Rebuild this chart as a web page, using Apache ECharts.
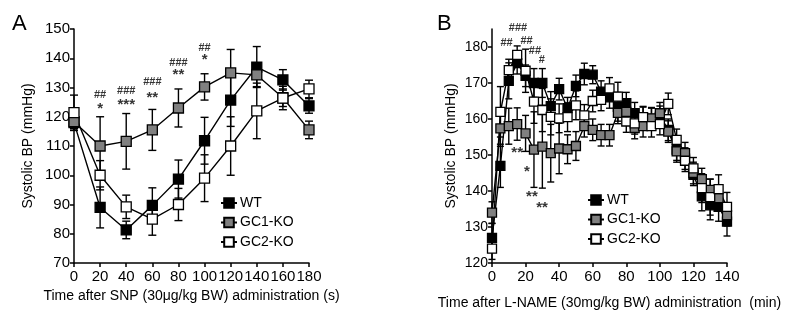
<!DOCTYPE html>
<html>
<head>
<meta charset="utf-8">
<script src="https://cdn.jsdelivr.net/npm/echarts@6/dist/echarts.min.js"></script>
<style>
  html, body { margin: 0; padding: 0; background: #fff; }
  #chart { width: 790px; height: 317px; }
</style>
</head>
<body>
<div id="chart"></div>
<script>
// ---- panel A: SNP ----
const timeA = [0, 20, 40, 60, 80, 100, 120, 140, 160, 180];
const wtA = [118, 89, 81.3, 89.7, 98.7, 111.8, 125.7, 137, 132.6, 123.7];
const wtAsd = [2, 7, 3, 6, 6.5, 8, 9, 7, 3.5, 2.5];
const gc1A = [118.3, 110, 111.6, 115.5, 123, 130.2, 135, 134.3, 126.5, 115.5];
const gc1Asd = [3, 10, 9.5, 7, 6.5, 4.5, 8, 4, 3, 3];
const gc2A = [121.4, 100, 89.2, 85, 90, 99, 110, 122, 126.4, 129.5];
const gc2Asd = [6, 5, 4, 5.5, 5.5, 8, 10, 9.5, 4, 3];
const hashA = [[20, 127.4, '##'], [40, 128.8, '###'], [60, 131.8, '###'], [80, 138.3, '###'], [100, 143.4, '##']];
const starA = [[20, 122.6, '*'], [40, 124, '***'], [60, 126.6, '**'], [80, 134.3, '**'], [100, 139.4, '*']];
const yTicksA = [70, 150];

// ---- panel B: L-NAME ----
const timeB = [0, 5, 10, 15, 20, 25, 30, 35, 40, 45, 50, 55, 60, 65, 70, 75, 80, 85, 90, 95, 100, 105, 110, 115, 120, 125, 130, 135, 140];
const wtB = [127, 147, 170.6, 175.5, 172, 170, 170, 163.6, 168.3, 163, 169.2, 172.5, 172.3, 167.6, 166, 163.4, 164.4, 161.6, 160.3, 160, 160.6, 157, 151.5, 149, 144.5, 138.5, 136, 135.6, 131.5];
const wtBsd = [4, 6, 5, 3, 3, 4, 4, 4, 3, 3, 3, 3, 2.5, 3, 3, 4, 3, 3, 3, 3, 3, 3, 3, 3, 3, 4, 4, 4, 4];
const gc1B = [134, 157.4, 158, 158.6, 156, 151.5, 152.3, 150.5, 151.8, 151.6, 152.5, 158, 157, 155.5, 155.5, 161.7, 162, 157.5, 158, 160.2, 161.6, 156.5, 151, 150.5, 145, 143.3, 140.3, 138, 133.3];
const gc1Bsd = [3, 5, 5, 4.5, 5, 10.5, 11.5, 8, 7, 4, 4, 3, 3, 3, 3, 3, 3, 3, 3, 3, 3, 3, 3, 3, 3, 3, 3, 3, 3];
const gc2B = [124, 162, 173.6, 177.8, 173.4, 164.8, 162.5, 160.6, 160.2, 160.5, 163.8, 161, 165, 165.3, 168.5, 166.2, 159.3, 158.8, 160.5, 158, 158.6, 164.2, 154.2, 148.4, 146.3, 140.8, 138.3, 140.5, 135.6];
const gc2Bsd = [3, 7, 3, 2.5, 6, 6, 6, 5, 4, 4, 4, 3, 3, 3, 3, 4, 3, 3, 3, 3, 3, 3, 3, 3, 3, 4, 5, 4, 4];
const hashB = [[8.7, 181, '##'], [15.5, 185.2, '###'], [20.6, 181.7, '##'], [25.6, 178.9, '##'], [29.6, 176.4, '#']];
const starB = [[15, 150.6, '**'], [20.8, 145.3, '*'], [23.8, 138.3, '**'], [29.8, 135.3, '**']];
const yTicksB = [120, 130, 140, 150, 160, 170, 180];

const names = ['WT', 'GC1-KO', 'GC2-KO'];
const fills = ['#000000', '#808080', '#ffffff'];
const FONT = 'Liberation Sans, Arial, sans-serif';

function pairs(t, v) {
    return t.map((x, i) => [x, v[i]]);
}

function bars(t, v, sd) {
    return t.map((x, i) => [x, v[i] - sd[i], v[i] + sd[i]]);
}

function errSeries(idx, data, cap) {
    return {
        type: 'custom',
        xAxisIndex: idx,
        yAxisIndex: idx,
        silent: true,
        data: data,
        renderItem(params, api) {
            const x = api.value(0);
            const top = api.coord([x, api.value(2)]);
            const bot = api.coord([x, api.value(1)]);
            const st = { stroke: '#000', lineWidth: 1.4 };
            return {
                type: 'group',
                children: [
                    { type: 'line', shape: { x1: top[0], y1: top[1], x2: bot[0], y2: bot[1] }, style: st },
                    { type: 'line', shape: { x1: top[0] - cap, y1: top[1], x2: top[0] + cap, y2: top[1] }, style: st },
                    { type: 'line', shape: { x1: bot[0] - cap, y1: bot[1], x2: bot[0] + cap, y2: bot[1] }, style: st }
                ]
            };
        }
    };
}

function lineSeries(idx, k, data, size) {
    return {
        name: names[k],
        type: 'line',
        xAxisIndex: idx,
        yAxisIndex: idx,
        data: data,
        symbol: 'rect',
        symbolSize: size,
        showAllSymbol: true,
        lineStyle: { color: '#000', width: 1.4 },
        itemStyle: { color: fills[k], borderColor: '#000', borderWidth: 1.3 }
    };
}

function textSeries(idx, data, size) {
    return {
        type: 'scatter',
        xAxisIndex: idx,
        yAxisIndex: idx,
        silent: true,
        clip: false,
        symbolSize: 0,
        data: data,
        label: {
            show: true,
            position: 'inside',
            color: '#000',
            fontFamily: FONT,
            fontSize: size,
            fontWeight: 'bold',
            formatter: p => p.data[2]
        },
        z: 5
    };
}

function xAxis(idx, max, name, gap, fs) {
    return {
        type: 'value',
        gridIndex: idx,
        min: 0,
        max: max,
        interval: 20,
        name: name,
        nameLocation: 'middle',
        nameGap: gap,
        nameTextStyle: { color: '#000', fontFamily: FONT, fontSize: 14 },
        splitLine: { show: false },
        axisLine: { onZero: false, lineStyle: { color: '#000', width: 1.5 } },
        axisTick: { length: 4, lineStyle: { color: '#000', width: 1.5 } },
        axisLabel: { color: '#000', fontFamily: FONT, fontSize: fs, margin: 6 }
    };
}

function yAxis(idx, min, max, gap, ticks, fs) {
    const ax = {
        type: 'value',
        gridIndex: idx,
        min: min,
        max: max,
        interval: 10,
        name: 'Systolic BP (mmHg)',
        nameLocation: 'middle',
        nameRotate: 90,
        nameGap: gap,
        nameTextStyle: { color: '#000', fontFamily: FONT, fontSize: 14 },
        splitLine: { show: false },
        axisLine: { onZero: false, lineStyle: { color: '#000', width: 1.5 } },
        axisTick: { length: 4, lineStyle: { color: '#000', width: 1.5 } },
        axisLabel: { color: '#000', fontFamily: FONT, fontSize: fs, margin: 4 }
    };
    if (ticks) {
        ax.axisTick.customValues = ticks;
        ax.axisLabel.customValues = ticks;
    }
    return ax;
}

function legend(left, top) {
    return {
        data: names,
        orient: 'vertical',
        left: left,
        top: top,
        itemWidth: 16,
        itemHeight: 12,
        itemGap: 5.5,
        selectedMode: false,
        textStyle: { color: '#000', fontFamily: FONT, fontSize: 14, padding: [0, 0, 0, -2] }
    };
}

const series = [];
const sdA = [wtAsd, gc1Asd, gc2Asd];
const valsA = [wtA, gc1A, gc2A];
const sdB = [wtBsd, gc1Bsd, gc2Bsd];
const valsB = [wtB, gc1B, gc2B];
for (let k = 0; k < 3; k++) {
    series.push(errSeries(0, bars(timeA, valsA[k], sdA[k]), 4));
    series.push(lineSeries(0, k, pairs(timeA, valsA[k]), 10));
}
for (let k = 0; k < 3; k++) {
    series.push(errSeries(1, bars(timeB, valsB[k], sdB[k]), 3.5));
    series.push(lineSeries(1, k, pairs(timeB, valsB[k]), 9));
}
series.push(textSeries(0, hashA, 11));
series.push(textSeries(0, starA, 15));
series.push(textSeries(1, hashB, 11));
series.push(textSeries(1, starB, 15));

const chart = echarts.init(document.getElementById('chart'));
chart.setOption({
    animation: false,
    backgroundColor: '#fff',
    grid: [
        { left: 74, top: 29, width: 235, height: 234 },
        { left: 492, top: 29, width: 235, height: 234 }
    ],
    xAxis: [
        xAxis(0, 180, 'Time after SNP (30\u03bcg/kg BW) administration (s)', 25, 15),
        xAxis(1, 140, 'Time after L-NAME (30mg/kg BW) administration  (min)', 33, 15)
    ],
    yAxis: [
        yAxis(0, yTicksA[0], yTicksA[1], 39, null, 15),
        yAxis(1, 120, 185, 34, yTicksB, 14)
    ],
    legend: [legend(215, 191), legend(582, 188)],
    graphic: [
        { type: 'text', left: 12, top: 13, style: { text: 'A', font: '22px ' + FONT, fill: '#000' } },
        { type: 'text', left: 437, top: 13, style: { text: 'B', font: '22px ' + FONT, fill: '#000' } }
    ],
    series: series
});
</script>
</body>
</html>
